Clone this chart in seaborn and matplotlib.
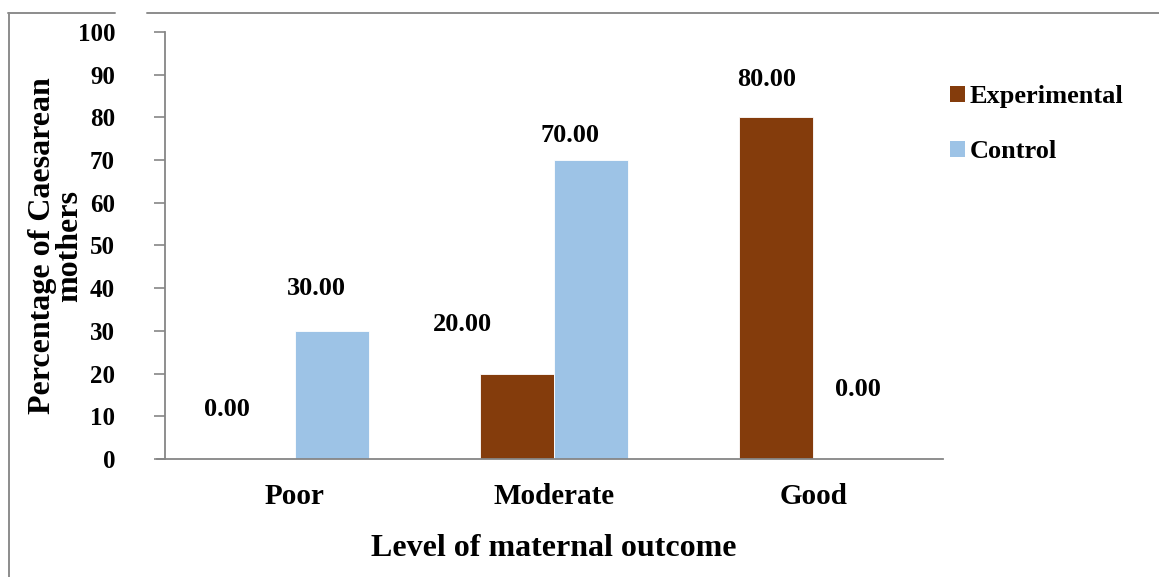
import matplotlib
matplotlib.use("Agg")
import matplotlib.pyplot as plt
from matplotlib.lines import Line2D
from matplotlib.patches import Patch
import seaborn as sns
import pandas as pd

# Data
levels = ["Poor", "Moderate", "Good"]
groups = ["Experimental", "Control"]
experimental = [0.00, 20.00, 80.00]
control = [30.00, 70.00, 0.00]

# Label offsets (pixels) relative to each bar's top centre, per group
exp_label_offsets = [(-31, 49), (-55, 49), (-10, 38)]
ctrl_label_offsets = [(-15, 42), (-21, 25), (8, 69)]

palette = {"Experimental": "#843C0C", "Control": "#9DC3E6"}

sns.set_theme(style="white")
plt.rcParams["font.family"] = ["Liberation Serif", "DejaVu Serif"]
plt.rcParams["font.weight"] = "bold"
plt.rcParams["text.color"] = "black"
plt.rcParams["axes.labelcolor"] = "black"
plt.rcParams["xtick.labelcolor"] = "black"
plt.rcParams["ytick.labelcolor"] = "black"

df = pd.DataFrame({
    "Level": levels * 2,
    "Group": [groups[0]] * 3 + [groups[1]] * 3,
    "Percent": experimental + control,
})

W, H = 1159, 577
fig = plt.figure(figsize=(W / 100, H / 100), dpi=100)
ax = fig.add_axes([165 / W, 1 - 459 / H, (943 - 165) / W, (459 - 32) / H])

sns.barplot(data=df, x="Level", y="Percent", hue="Group", order=levels,
            hue_order=groups, palette=palette, width=0.57, ax=ax,
            saturation=1, edgecolor="white", linewidth=0.6, legend=False,
            errorbar=None)

ax.set_xlim(-0.5, 2.5)
ax.set_ylim(0, 100)
ax.set_yticks(range(0, 101, 10))
ax.tick_params(axis="y", which="major", length=8, width=1.2, color="#868686",
               pad=28, labelsize=18, direction="out", left=True,
               labelcolor="black")
ax.tick_params(axis="x", length=0, pad=17, labelsize=21, labelcolor="black")
for lab in ax.get_xticklabels() + ax.get_yticklabels():
    lab.set_fontweight("bold")

for side in ["top", "right"]:
    ax.spines[side].set_visible(False)
for side in ["left", "bottom"]:
    ax.spines[side].set_color("#868686")
    ax.spines[side].set_linewidth(1.3)
ax.spines["bottom"].set_bounds(-0.5 - 8 / 259.3, 2.5)

ax.set_xlabel("Level of maternal outcome", fontsize=23, fontweight="bold",
              color="black")
ax.xaxis.set_label_coords(0.5, (459 - 548) / 427)
ax.xaxis.label.set_va("center")
ax.set_ylabel("Percentage of Caesarean\nmothers", fontsize=23,
              fontweight="bold", linespacing=0.9, va="center", color="black")
ax.yaxis.set_label_coords((56 - 165) / 778, 0.5)

# Value labels above the bars
for cont, vals, offs in zip(ax.containers, [experimental, control],
                            [exp_label_offsets, ctrl_label_offsets]):
    for bar, v, (dx, dy) in zip(cont, vals, offs):
        cx = bar.get_x() + bar.get_width() / 2
        ax.annotate(f"{v:.2f}", xy=(cx, bar.get_height()), xytext=(dx, dy),
                    textcoords="offset pixels", ha="center", va="center",
                    fontsize=19, fontweight="bold", color="black")

# Legend
handles = [Patch(facecolor=palette[g], edgecolor="none") for g in groups]
leg = fig.legend(handles, groups, loc="upper left",
                 bbox_to_anchor=(950 / W, 1 - 85 / H), frameon=False,
                 prop={"weight": "bold", "size": 19},
                 handlelength=0.55, handleheight=0.55, handletextpad=0.2,
                 labelspacing=1.22, borderpad=0, borderaxespad=0)
for t in leg.get_texts():
    t.set_color("black")

# Outer frame lines
frame_kw = dict(color="#8c8c8c", linewidth=1.4, transform=fig.transFigure)
fig.lines.append(Line2D([8 / W, 115 / W], [1 - 13 / H, 1 - 13 / H], **frame_kw))
fig.lines.append(Line2D([147 / W, 1.0], [1 - 13 / H, 1 - 13 / H], **frame_kw))
fig.lines.append(Line2D([9 / W, 9 / W], [0, 1 - 13 / H], **frame_kw))

fig.savefig("out.png", dpi=100)
